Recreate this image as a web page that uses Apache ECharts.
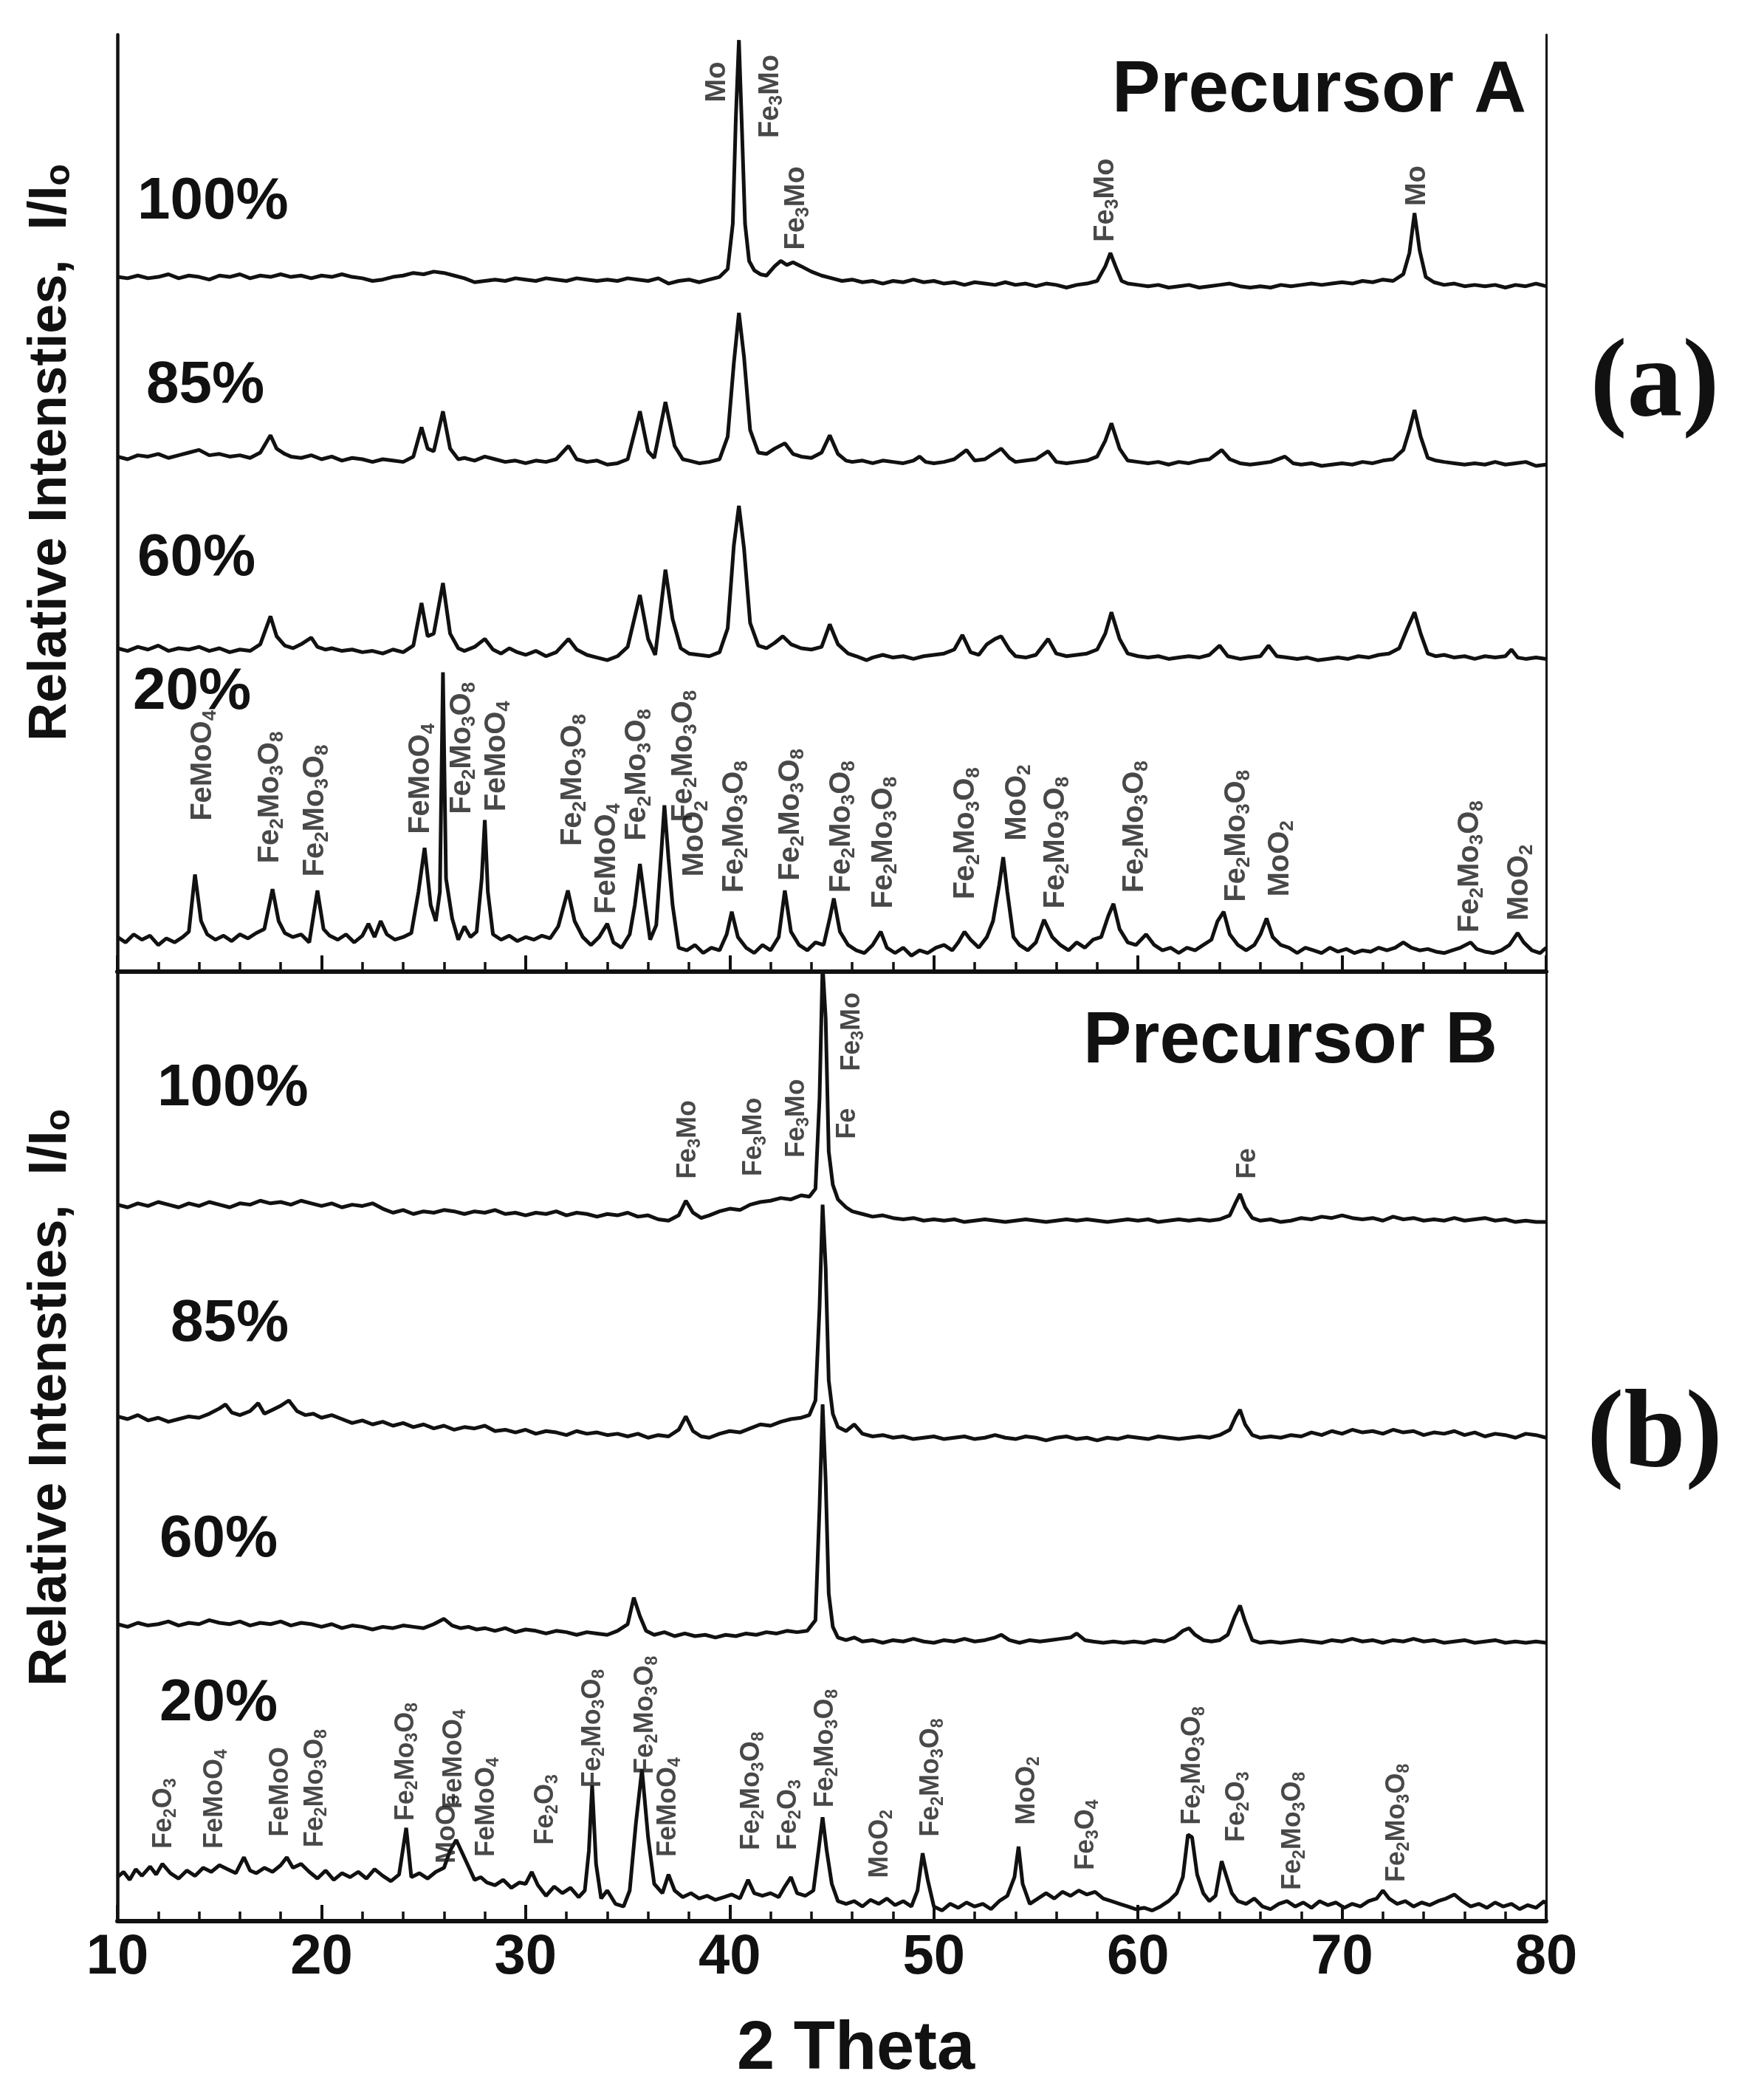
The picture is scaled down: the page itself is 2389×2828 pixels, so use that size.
<!DOCTYPE html>
<html><head><meta charset="utf-8">
<script src="https://cdn.jsdelivr.net/npm/echarts@6/dist/echarts.min.js"></script>
<style>html,body{margin:0;padding:0;background:#fff}#c{width:2389px;height:2828px}</style>
</head><body><div id="c"></div>
<script>
// ---------- data ----------
const xTicks = [10, 20, 30, 40, 50, 60, 70, 80];
const sampleNames = ['100%', '85%', '60%', '20%'];
// stacking offsets of each pattern (arbitrary intensity units)
const offsetsA = [522, 387, 240, 30];
const offsetsB = [538, 371, 221, 23];

// Precursor A patterns: [2theta, intensity relative to own baseline]
const A100 = [[10,0],[10.5,-1],[11,1],[11.5,-1],[12,0],[12.5,2],[13,-1],[13.5,1],[14,0],[14.5,-2],[15,1],[15.5,0],[16,2],[16.5,-1],[17,1],[17.5,0],[18,2],[18.5,0],[19,1],[19.5,-1],[20,1],[20.5,0],[21,2],[21.5,0],[22,-1],[22.5,-3],[23,-2],[23.5,0],[24,1],[24.5,3],[25,2],[25.5,4],[26,3],[26.5,1],[27,-1],[27.5,-4],[28,-3],[28.5,-2],[29,-3],[29.5,-1],[30,-2],[30.5,-3],[31,-1],[31.5,-2],[32,-3],[32.5,-1],[33,-2],[33.5,-3],[34,-2],[34.5,-3],[35,-1],[35.5,-2],[36,-3],[36.5,-1],[37,-5],[37.5,-3],[38,-2],[38.5,-4],[39,-2],[39.5,0],[39.9,6],[40.15,40],[40.3,120],[40.45,178],[40.6,110],[40.75,40],[40.95,12],[41.2,5],[41.5,2],[41.8,1],[42.2,8],[42.5,12],[42.8,9],[43.1,11],[43.5,8],[44,4],[44.5,1],[45,-1],[45.5,-3],[46,-2],[46.5,-4],[47,-3],[47.5,-5],[48,-3],[48.5,-4],[49,-2],[49.5,-4],[50,-3],[50.5,-5],[51,-4],[51.5,-6],[52,-4],[52.5,-5],[53,-6],[53.5,-4],[54,-6],[54.5,-5],[55,-7],[55.5,-5],[56,-6],[56.5,-8],[57,-6],[57.5,-5],[58,-3],[58.4,8],[58.65,18],[58.9,8],[59.2,-3],[59.5,-5],[60,-6],[60.5,-7],[61,-6],[61.5,-8],[62,-7],[62.5,-6],[63,-8],[63.5,-7],[64,-6],[64.5,-5],[65,-7],[65.5,-8],[66,-7],[66.5,-8],[67,-6],[67.5,-7],[68,-6],[68.5,-5],[69,-6],[69.5,-5],[70,-4],[70.5,-5],[71,-3],[71.5,-4],[72,-2],[72.5,-3],[73,2],[73.3,18],[73.55,48],[73.8,20],[74.1,0],[74.5,-4],[75,-6],[75.5,-5],[76,-7],[76.5,-6],[77,-7],[77.5,-6],[78,-8],[78.5,-6],[79,-7],[79.5,-5],[80,-7]];
const A85 = [[10,0],[10.5,-2],[11,1],[11.5,0],[12,2],[12.5,-1],[13,1],[13.5,3],[14,5],[14.5,1],[15,2],[15.5,0],[16,1],[16.5,-1],[17,3],[17.5,16],[17.8,6],[18.2,2],[18.5,0],[19,-1],[19.5,1],[20,-2],[20.5,0],[21,-3],[21.5,-1],[22,-2],[22.5,-4],[23,-2],[23.5,-3],[24,-4],[24.5,0],[24.9,22],[25.2,6],[25.5,4],[25.95,34],[26.3,6],[26.7,-2],[27,-1],[27.5,-3],[28,0],[28.5,-2],[29,-4],[29.5,-3],[30,-5],[30.5,-3],[31,-4],[31.5,-2],[32.1,8],[32.5,-2],[33,-4],[33.5,-3],[34,-6],[34.5,-5],[35,-2],[35.6,34],[36,4],[36.3,-1],[36.85,41],[37.3,8],[37.7,-2],[38,-3],[38.5,-5],[39,-4],[39.5,-2],[39.9,15],[40.2,70],[40.45,108],[40.7,75],[41,20],[41.4,3],[41.8,2],[42.2,6],[42.7,10],[43.1,2],[43.5,0],[44,-1],[44.5,3],[44.9,16],[45.3,2],[45.7,-3],[46,-4],[46.5,-3],[47,-5],[47.5,-3],[48,-4],[48.5,-5],[49,-3],[49.3,0],[49.6,-4],[50,-5],[50.5,-4],[51,-2],[51.6,5],[52,-3],[52.5,-2],[53,3],[53.3,6],[53.7,-1],[54,-4],[54.5,-3],[55,-2],[55.6,4],[56,-4],[56.5,-5],[57,-4],[57.5,-3],[58,0],[58.4,12],[58.7,25],[59.1,6],[59.5,-3],[60,-4],[60.5,-5],[61,-4],[61.5,-6],[62,-4],[62.5,-5],[63,-3],[63.5,-2],[64.1,5],[64.5,-2],[65,-5],[65.5,-6],[66,-5],[66.5,-4],[67.2,0],[67.6,-5],[68,-6],[68.5,-5],[69,-7],[69.5,-6],[70,-5],[70.5,-6],[71,-4],[71.5,-5],[72,-3],[72.5,-2],[73,5],[73.3,20],[73.55,35],[73.85,15],[74.2,-1],[74.6,-3],[75,-4],[75.5,-5],[76,-6],[76.5,-5],[77,-6],[77.5,-4],[78,-6],[78.5,-5],[79,-4],[79.5,-7],[80,-6]];
const A60 = [[10,3],[10.5,1],[11,4],[11.5,2],[12,5],[12.5,1],[13,3],[13.5,2],[14,4],[14.5,1],[15,3],[15.5,0],[16,2],[16.5,1],[17,6],[17.5,27],[17.8,12],[18.2,5],[18.6,3],[19,6],[19.5,11],[19.8,4],[20.2,2],[20.5,3],[21,1],[21.5,2],[22,0],[22.5,1],[23,-1],[23.5,2],[24,0],[24.5,5],[24.9,37],[25.2,12],[25.5,14],[25.95,52],[26.3,14],[26.7,3],[27,1],[27.5,4],[28,10],[28.4,2],[28.8,-1],[29.2,3],[29.6,0],[30,-2],[30.5,1],[31,-3],[31.5,0],[32.1,10],[32.5,2],[33,-2],[33.5,-4],[34,-6],[34.5,-3],[35,4],[35.6,43],[36,10],[36.35,-2],[36.85,62],[37.2,25],[37.6,3],[38,-1],[38.5,-2],[39,-3],[39.5,0],[39.9,18],[40.2,80],[40.45,110],[40.7,78],[41,22],[41.4,5],[41.8,3],[42.2,7],[42.6,12],[43,6],[43.5,3],[44,2],[44.5,4],[44.9,21],[45.3,6],[45.8,-1],[46.2,-3],[46.7,-6],[47,-4],[47.5,-2],[48,-4],[48.5,-3],[49,-5],[49.5,-3],[50,-2],[50.5,-1],[51,2],[51.4,13],[51.8,0],[52.2,-2],[52.6,6],[53,10],[53.3,12],[53.7,2],[54,-3],[54.5,-4],[55,-2],[55.6,10],[56,-1],[56.5,-3],[57,-2],[57.5,-1],[58,2],[58.4,14],[58.7,30],[59.1,10],[59.5,-1],[60,-3],[60.5,-4],[61,-3],[61.5,-5],[62,-4],[62.5,-3],[63,-4],[63.5,-2],[64,5],[64.4,-3],[65,-5],[65.5,-4],[66,-3],[66.4,5],[66.8,-3],[67.3,-4],[67.8,-5],[68.3,-4],[68.8,-6],[69.3,-5],[69.8,-4],[70.3,-5],[70.8,-3],[71.3,-4],[71.8,-2],[72.3,-1],[72.8,3],[73.2,18],[73.55,30],[73.85,14],[74.2,-1],[74.6,-3],[75,-2],[75.5,-4],[76,-3],[76.5,-5],[77,-3],[77.5,-4],[78,-3],[78.3,2],[78.6,-4],[79,-5],[79.5,-4],[80,-5]];
const A20 = [[10,-4],[10.4,-8],[10.8,-2],[11.2,-6],[11.6,-3],[12,-10],[12.4,-5],[12.8,-8],[13.2,-4],[13.5,0],[13.8,43],[14.1,8],[14.4,-2],[14.8,-6],[15.2,-3],[15.6,-7],[16,-2],[16.4,-5],[16.8,-1],[17.2,2],[17.6,32],[17.9,8],[18.2,-1],[18.6,-4],[19,-2],[19.4,-8],[19.8,31],[20.1,2],[20.4,-3],[20.8,-6],[21.2,-2],[21.6,-8],[22,-3],[22.3,6],[22.6,-4],[22.9,8],[23.2,-2],[23.6,-6],[24,-4],[24.4,-1],[24.75,30],[25.05,63],[25.35,20],[25.6,8],[25.8,30],[25.95,195],[26.1,40],[26.4,10],[26.7,-6],[27,4],[27.3,-4],[27.6,0],[27.85,40],[28.0,84],[28.15,30],[28.4,-2],[28.8,-6],[29.2,-3],[29.6,-7],[30,-4],[30.4,-6],[30.8,-3],[31.2,-5],[31.6,4],[32.07,31],[32.4,8],[32.8,-4],[33.2,-10],[33.6,-4],[34.0,6],[34.3,-8],[34.7,-12],[35.1,-2],[35.35,20],[35.6,51],[35.85,22],[36.1,-6],[36.4,5],[36.65,60],[36.8,95],[37.0,55],[37.2,20],[37.5,-12],[37.9,-14],[38.3,-10],[38.7,-16],[39.1,-12],[39.5,-14],[39.85,-2],[40.1,15],[40.4,-4],[40.8,-12],[41.2,-16],[41.6,-10],[42,-14],[42.4,-4],[42.7,31],[43,0],[43.4,-10],[43.8,-14],[44.2,-8],[44.6,-10],[44.9,10],[45.1,25],[45.4,0],[45.8,-10],[46.2,-14],[46.6,-16],[47,-10],[47.4,0],[47.7,-12],[48.1,-16],[48.5,-12],[48.9,-18],[49.3,-14],[49.7,-16],[50.1,-12],[50.5,-10],[50.9,-14],[51.2,-8],[51.5,0],[51.8,-6],[52.2,-12],[52.6,-4],[52.9,8],[53.2,35],[53.4,56],[53.6,30],[53.9,-4],[54.2,-10],[54.6,-14],[55,-8],[55.4,9],[55.8,-4],[56.2,-10],[56.6,-14],[57,-8],[57.4,-12],[57.8,-6],[58.2,-4],[58.55,12],[58.8,21],[59.1,2],[59.5,-8],[59.9,-10],[60.4,-2],[60.8,-10],[61.2,-14],[61.6,-12],[62,-16],[62.4,-12],[62.8,-14],[63.2,-10],[63.6,-6],[63.9,8],[64.2,15],[64.5,-2],[64.9,-10],[65.3,-14],[65.7,-10],[66.0,-2],[66.3,10],[66.6,-4],[67,-10],[67.4,-12],[67.8,-16],[68.2,-12],[68.6,-14],[69,-16],[69.4,-12],[69.8,-15],[70.2,-13],[70.6,-16],[71,-14],[71.4,-15],[71.8,-12],[72.2,-14],[72.6,-12],[73,-8],[73.4,-12],[73.8,-14],[74.2,-13],[74.6,-15],[75,-16],[75.4,-14],[75.8,-12],[76.3,-8],[76.6,-13],[77,-15],[77.4,-16],[77.8,-14],[78.2,-10],[78.6,-1],[78.9,-8],[79.3,-14],[79.7,-16],[80,-12]];

// Precursor B patterns
const B100 = [[10,0],[10.5,-2],[11,1],[11.5,-1],[12,2],[12.5,0],[13,-2],[13.5,1],[14,-1],[14.5,2],[15,0],[15.5,-2],[16,1],[16.5,0],[17,3],[17.5,1],[18,2],[18.5,0],[19,3],[19.5,1],[20,-1],[20.5,1],[21,-2],[21.5,0],[22,-1],[22.5,1],[23,-3],[23.5,-6],[24,-4],[24.5,-7],[25,-5],[25.5,-6],[26,-4],[26.5,-5],[27,-7],[27.5,-5],[28,-6],[28.5,-4],[29,-7],[29.5,-6],[30,-8],[30.5,-6],[31,-7],[31.5,-5],[32,-8],[32.5,-6],[33,-7],[33.5,-9],[34,-7],[34.5,-8],[35,-6],[35.5,-9],[36,-8],[36.5,-11],[37,-12],[37.5,-8],[37.85,3],[38.2,-6],[38.6,-10],[39,-8],[39.5,-5],[40,-3],[40.5,-4],[41,0],[41.5,2],[42,3],[42.5,5],[43,4],[43.5,7],[43.9,6],[44.2,12],[44.4,80],[44.55,180],[44.7,140],[44.85,40],[45.05,15],[45.3,4],[45.7,-2],[46,-5],[46.5,-7],[47,-9],[47.5,-8],[48,-10],[48.5,-11],[49,-10],[49.5,-12],[50,-11],[50.5,-12],[51,-11],[51.5,-13],[52,-12],[52.5,-11],[53,-12],[53.5,-13],[54,-12],[54.5,-11],[55,-12],[55.5,-13],[56,-12],[56.5,-11],[57,-12],[57.5,-11],[58,-12],[58.5,-13],[59,-12],[59.5,-11],[60,-12],[60.5,-11],[61,-13],[61.5,-12],[62,-11],[62.5,-12],[63,-11],[63.5,-12],[64,-11],[64.5,-8],[64.8,2],[65.0,8],[65.25,-2],[65.6,-10],[66,-12],[66.5,-11],[67,-13],[67.5,-12],[68,-10],[68.5,-11],[69,-9],[69.5,-10],[70,-8],[70.5,-10],[71,-11],[71.5,-10],[72,-12],[72.5,-9],[73,-11],[73.5,-10],[74,-12],[74.5,-11],[75,-12],[75.5,-10],[76,-12],[76.5,-11],[77,-10],[77.5,-12],[78,-11],[78.5,-13],[79,-12],[79.5,-13],[80,-13]];
const B85 = [[10,8],[10.5,6],[11,9],[11.5,5],[12,7],[12.5,4],[13,6],[13.5,8],[14,7],[14.5,10],[15,14],[15.3,17],[15.6,11],[16,9],[16.5,12],[16.9,18],[17.2,10],[17.6,13],[18,16],[18.4,20],[18.8,12],[19.2,9],[19.6,10],[20,7],[20.5,9],[21,6],[21.5,3],[22,5],[22.5,2],[23,4],[23.5,1],[24,3],[24.5,0],[25,2],[25.5,-1],[26,1],[26.5,-2],[27,0],[27.5,-1],[28,1],[28.5,-3],[29,-2],[29.5,-4],[30,-2],[30.5,-5],[31,-3],[31.5,-4],[32,-6],[32.5,-3],[33,-5],[33.5,-4],[34,-6],[34.5,-5],[35,-7],[35.5,-5],[36,-8],[36.5,-6],[37,-7],[37.5,-2],[37.85,8],[38.2,-3],[38.6,-7],[39,-8],[39.5,-5],[40,-3],[40.5,-4],[41,-1],[41.5,2],[42,1],[42.5,4],[43,6],[43.5,7],[43.9,9],[44.2,20],[44.4,90],[44.55,167],[44.7,120],[44.85,35],[45.05,10],[45.3,0],[45.7,-3],[46.1,2],[46.5,-5],[47,-7],[47.5,-6],[48,-8],[48.5,-7],[49,-9],[49.5,-8],[50,-7],[50.5,-9],[51,-8],[51.5,-7],[52,-9],[52.5,-8],[53,-6],[53.5,-8],[54,-9],[54.5,-7],[55,-8],[55.5,-10],[56,-8],[56.5,-7],[57,-9],[57.5,-8],[58,-10],[58.5,-8],[59,-9],[59.5,-7],[60,-8],[60.5,-9],[61,-7],[61.5,-8],[62,-9],[62.5,-8],[63,-7],[63.5,-8],[64,-6],[64.5,-2],[64.8,8],[65.0,13],[65.25,2],[65.6,-6],[66,-8],[66.5,-7],[67,-8],[67.5,-6],[68,-7],[68.5,-4],[69,-6],[69.5,-3],[70,-5],[70.5,-2],[71,-4],[71.5,-3],[72,-5],[72.5,-2],[73,-4],[73.5,-3],[74,-6],[74.5,-4],[75,-5],[75.5,-3],[76,-6],[76.5,-4],[77,-7],[77.5,-5],[78,-6],[78.5,-8],[79,-5],[79.5,-6],[80,-8]];
const B60 = [[10,2],[10.5,0],[11,3],[11.5,1],[12,2],[12.5,4],[13,1],[13.5,3],[14,2],[14.5,5],[15,3],[15.5,2],[16,4],[16.5,1],[17,3],[17.5,2],[18,4],[18.5,1],[19,3],[19.5,2],[20,0],[20.5,2],[21,-1],[21.5,1],[22,0],[22.5,-2],[23,0],[23.5,-1],[24,1],[24.5,0],[25,-1],[25.5,2],[26,6],[26.4,1],[26.8,-1],[27.2,0],[27.6,-2],[28,-1],[28.5,-3],[29,-1],[29.5,-4],[30,-2],[30.5,-3],[31,-5],[31.5,-3],[32,-4],[32.5,-6],[33,-4],[33.5,-5],[34,-6],[34.5,-3],[35,2],[35.3,22],[35.6,8],[35.9,-3],[36.3,-6],[36.8,-4],[37.3,-7],[37.8,-5],[38.3,-7],[38.8,-6],[39.3,-8],[39.8,-6],[40.3,-7],[40.8,-5],[41.3,-6],[41.8,-4],[42.3,-5],[42.8,-3],[43.3,-4],[43.8,-3],[44.2,5],[44.4,90],[44.55,167],[44.7,110],[44.85,25],[45.05,0],[45.3,-8],[45.7,-10],[46.1,-8],[46.5,-11],[47,-10],[47.5,-12],[48,-10],[48.5,-11],[49,-9],[49.5,-11],[50,-12],[50.5,-10],[51,-11],[51.5,-9],[52,-11],[52.5,-10],[53,-8],[53.3,-6],[53.7,-10],[54.2,-12],[54.7,-10],[55.2,-11],[55.7,-10],[56.2,-9],[56.7,-8],[57,-5],[57.4,-10],[57.8,-11],[58.3,-12],[58.8,-11],[59.3,-12],[59.8,-11],[60.3,-12],[60.8,-10],[61.3,-11],[61.8,-8],[62.2,-3],[62.5,-1],[62.8,-6],[63.2,-10],[63.6,-11],[64,-10],[64.4,-6],[64.75,8],[65.0,16],[65.25,4],[65.6,-10],[66,-12],[66.5,-11],[67,-12],[67.5,-11],[68,-10],[68.5,-11],[69,-12],[69.5,-10],[70,-11],[70.5,-9],[71,-11],[71.5,-10],[72,-12],[72.5,-10],[73,-11],[73.5,-9],[74,-11],[74.5,-10],[75,-12],[75.5,-11],[76,-10],[76.5,-12],[77,-11],[77.5,-10],[78,-12],[78.5,-11],[79,-12],[79.5,-11],[80,-12]];
const B20 = [[10,10],[10.3,14],[10.6,8],[10.9,16],[11.2,11],[11.6,18],[11.9,12],[12.2,20],[12.6,13],[13,9],[13.4,15],[13.8,11],[14.2,17],[14.6,14],[15,19],[15.4,16],[15.8,13],[16.2,25],[16.5,15],[16.8,13],[17.2,17],[17.6,14],[18,19],[18.3,25],[18.6,17],[19,20],[19.4,14],[19.8,9],[20.2,15],[20.6,8],[21,13],[21.4,10],[21.8,14],[22.2,9],[22.6,16],[23,11],[23.4,7],[23.8,12],[24.15,47],[24.4,10],[24.8,13],[25.2,9],[25.6,14],[26,17],[26.3,30],[26.6,38],[26.9,28],[27.2,18],[27.5,8],[27.8,10],[28.1,6],[28.5,4],[28.9,8],[29.3,2],[29.7,6],[30.0,5],[30.3,14],[30.6,4],[31,-4],[31.4,3],[31.8,-2],[32.2,2],[32.6,-5],[32.9,0],[33.1,30],[33.26,79],[33.45,20],[33.7,-6],[34,0],[34.4,-10],[34.8,-12],[35.1,0],[35.4,50],[35.7,91],[36.0,40],[36.3,5],[36.7,-2],[37.0,12],[37.3,0],[37.7,-5],[38.1,-2],[38.5,-6],[38.9,-4],[39.3,-7],[39.7,-5],[40.1,-3],[40.5,-6],[40.9,8],[41.2,-2],[41.6,-4],[42,-2],[42.4,-5],[42.7,3],[43.0,10],[43.3,-2],[43.7,-4],[44.1,0],[44.35,30],[44.55,55],[44.75,30],[45.0,5],[45.3,-8],[45.7,-10],[46.1,-8],[46.5,-12],[46.9,-7],[47.3,-10],[47.7,-6],[48.1,-11],[48.5,-8],[48.9,-12],[49.2,0],[49.45,28],[49.7,8],[50,-12],[50.4,-15],[50.8,-10],[51.2,-13],[51.6,-9],[52,-12],[52.4,-10],[52.8,-14],[53.2,-8],[53.6,-4],[53.95,10],[54.15,33],[54.35,5],[54.7,-10],[55.1,-6],[55.5,-2],[55.9,-6],[56.3,-1],[56.7,-4],[57.1,0],[57.5,-3],[57.9,-1],[58.3,-6],[58.7,-8],[59.1,-10],[59.5,-12],[59.9,-14],[60.3,-13],[60.7,-15],[61.1,-12],[61.5,-8],[61.9,-2],[62.2,10],[62.45,42],[62.65,40],[62.9,12],[63.2,-2],[63.5,-8],[63.8,-4],[64.1,22],[64.35,10],[64.6,-2],[64.9,-8],[65.3,-10],[65.7,-6],[66.1,-12],[66.5,-14],[66.9,-10],[67.3,-8],[67.7,-12],[68.1,-9],[68.5,-13],[68.9,-8],[69.3,-11],[69.7,-9],[70.1,-13],[70.5,-10],[70.9,-12],[71.3,-8],[71.7,-6],[72.0,0],[72.3,-6],[72.7,-10],[73.1,-8],[73.5,-12],[73.9,-9],[74.3,-11],[74.7,-8],[75.1,-6],[75.5,-3],[75.9,-8],[76.3,-12],[76.7,-10],[77.1,-13],[77.5,-9],[77.9,-12],[78.3,-10],[78.7,-14],[79.1,-11],[79.5,-13],[79.9,-8],[80,-10]];

// phase labels: [text, 2theta, intensity where the label starts]
const labelsA = [
  ['Mo',39.4,653],['Fe{s|3}Mo',42.0,626],['Fe{s|3}Mo',43.3,542],['Fe{s|3}Mo',58.45,548],['Mo',73.7,575]
];
const labelsA20 = [
  ['FeMoO{s|4}',14.2,113],['Fe{s|2}Mo{s|3}O{s|8}',17.5,81],['Fe{s|2}Mo{s|3}O{s|8}',19.7,71],
  ['FeMoO{s|4}',24.9,103],['Fe{s|2}Mo{s|3}O{s|8}',26.9,118],['FeMoO{s|4}',28.6,120],
  ['Fe{s|2}Mo{s|3}O{s|8}',32.35,94],['FeMoO{s|4}',34.0,43],['Fe{s|2}Mo{s|3}O{s|8}',35.5,98],
  ['Fe{s|2}Mo{s|3}O{s|8}',37.75,112],['MoO{s|2}',38.3,71],['Fe{s|2}Mo{s|3}O{s|8}',40.25,59],
  ['Fe{s|2}Mo{s|3}O{s|8}',43.0,68],['Fe{s|2}Mo{s|3}O{s|8}',45.5,59],['Fe{s|2}Mo{s|3}O{s|8}',47.55,47],
  ['Fe{s|2}Mo{s|3}O{s|8}',51.6,54],['MoO{s|2}',54.1,98],['Fe{s|2}Mo{s|3}O{s|8}',56.0,47],
  ['Fe{s|2}Mo{s|3}O{s|8}',59.85,59],['Fe{s|2}Mo{s|3}O{s|8}',64.85,52],['MoO{s|2}',67.0,56],
  ['Fe{s|2}Mo{s|3}O{s|8}',76.3,29],['MoO{s|2}',78.7,38]
];
const labelsB = [
  ['Fe{s|3}Mo',38.0,557],['Fe{s|3}Mo',41.2,559],['Fe{s|3}Mo',43.3,573],['Fe',45.8,587],['Fe{s|3}Mo',46.0,638],['Fe',65.4,557],
  ['Fe{s|2}O{s|3}',12.3,54],['FeMoO{s|4}',14.8,54],['FeMoO',18.0,63],['Fe{s|2}Mo{s|3}O{s|8}',19.7,55],
  ['Fe{s|2}Mo{s|3}O{s|8}',24.15,75],['MoO{s|3}',26.2,43],['FeMoO{s|4}',26.5,84],['FeMoO{s|4}',28.1,48],
  ['Fe{s|2}O{s|3}',31.0,57],['Fe{s|2}Mo{s|3}O{s|8}',33.3,100],['Fe{s|2}Mo{s|3}O{s|8}',35.9,110],
  ['FeMoO{s|4}',37.0,48],['Fe{s|2}Mo{s|3}O{s|8}',41.1,53],['Fe{s|2}O{s|3}',42.9,53],
  ['Fe{s|2}Mo{s|3}O{s|8}',44.7,85],['MoO{s|2}',47.4,32],['Fe{s|2}Mo{s|3}O{s|8}',49.9,63],
  ['MoO{s|2}',54.6,72],['Fe{s|3}O{s|4}',57.5,38],['Fe{s|2}Mo{s|3}O{s|8}',62.7,72],
  ['Fe{s|2}O{s|3}',64.85,59],['Fe{s|2}Mo{s|3}O{s|8}',67.6,23],['Fe{s|2}Mo{s|3}O{s|8}',72.7,29]
];

// ---------- chart ----------
const FONT = '"Liberation Sans", Arial, sans-serif';
const INK = '#111';
const chart = echarts.init(document.getElementById('c'), null, {renderer: 'canvas'});
const stack = (rel, off) => rel.map(p => [p[0], p[1] + off]);
const patternsA = [A100, A85, A60, A20];
const patternsB = [B100, B85, B60, B20];

const lineSeries = [];
patternsA.forEach((d, i) => lineSeries.push({
  type: 'line', name: 'A ' + sampleNames[i], xAxisIndex: 0, yAxisIndex: 0,
  data: stack(d, offsetsA[i]), showSymbol: false, symbol: 'none', clip: true,
  lineStyle: {color: INK, width: 5}, z: 3
}));
patternsB.forEach((d, i) => lineSeries.push({
  type: 'line', name: 'B ' + sampleNames[i], xAxisIndex: 2, yAxisIndex: 2,
  data: stack(d, offsetsB[i]), showSymbol: false, symbol: 'none', clip: true,
  lineStyle: {color: INK, width: 5}, z: 3
}));

function labelSeries(list, xi, yi, fs, sfs) {
  return {
    type: 'scatter', xAxisIndex: xi, yAxisIndex: yi, symbolSize: 1,
    itemStyle: {color: 'rgba(0,0,0,0)'}, silent: true, z: 4,
    data: list.map(l => ({value: [l[1], l[2]], txt: l[0]})),
    label: {
      show: true, position: [0, 0], rotate: 90, align: 'left', verticalAlign: 'middle',
      formatter: p => p.data.txt, color: '#1a1a1a', fontFamily: FONT, fontWeight: 'bold',
      fontSize: fs, lineHeight: fs + 6,
      rich: {s: {fontSize: sfs, lineHeight: sfs - 4, verticalAlign: 'bottom', fontFamily: FONT, fontWeight: 'bold', color: '#1a1a1a'}}
    },
    labelLayout: {hideOverlap: false}
  };
}

const noAxisParts = {axisTick: {show: false}, axisLabel: {show: false}, splitLine: {show: false}};
const tickX = (showLabels) => ({
  type: 'value', min: xTicks[0], max: xTicks[xTicks.length - 1], interval: xTicks[1] - xTicks[0],
  axisLine: {show: true, onZero: false, lineStyle: {color: INK, width: 6}},
  axisTick: {show: true, inside: true, length: 22, lineStyle: {color: INK, width: 4}},
  minorTick: {show: true, splitNumber: 5, length: 13, lineStyle: {color: INK, width: 3.5}},
  axisLabel: {show: showLabels, color: INK, fontFamily: FONT, fontWeight: 'bold', fontSize: 76, margin: 12},
  splitLine: {show: false}, minorSplitLine: {show: false}
});

const txt = (text, x, y, size, opts = {}) => Object.assign({
  type: 'text', x, y, silent: true,
  style: Object.assign({text, fill: INK, fontFamily: FONT, fontWeight: 'bold', fontSize: size,
    align: 'left', verticalAlign: 'middle'}, opts.style || {})
}, opts.el || {});

const yName = 'Relative Intensties,  I/I{s|o}';
const yNameStyle = {align: 'center', fontSize: 72,
  rich: {s: {fontSize: 48, lineHeight: 48, verticalAlign: 'bottom', fontFamily: FONT, fontWeight: 'bold', fill: INK}}};

chart.setOption({
  animation: false,
  backgroundColor: '#fff',
  grid: [
    {left: 159, top: 47, width: 1935, height: 1269},
    {left: 159, top: 1316, width: 1935, height: 1286}
  ],
  xAxis: [
    Object.assign(tickX(false), {gridIndex: 0, position: 'bottom'}),
    Object.assign({type: 'value', gridIndex: 0, position: 'top', min: 10, max: 80,
      axisLine: {show: true, lineStyle: {color: INK, width: 5}}}, noAxisParts),
    Object.assign(tickX(true), {gridIndex: 1, position: 'bottom'})
  ],
  yAxis: [
    Object.assign({type: 'value', gridIndex: 0, min: 0, max: 704, position: 'left',
      axisLine: {show: true, onZero: false, lineStyle: {color: INK, width: 4.5}}}, noAxisParts),
    Object.assign({type: 'value', gridIndex: 0, min: 0, max: 704, position: 'right',
      axisLine: {show: true, onZero: false, lineStyle: {color: INK, width: 3}}}, noAxisParts),
    Object.assign({type: 'value', gridIndex: 1, min: 0, max: 713, position: 'left',
      axisLine: {show: true, onZero: false, lineStyle: {color: INK, width: 4.5}}}, noAxisParts),
    Object.assign({type: 'value', gridIndex: 1, min: 0, max: 713, position: 'right',
      axisLine: {show: true, onZero: false, lineStyle: {color: INK, width: 3}}}, noAxisParts)
  ],
  series: lineSeries.concat([
    labelSeries(labelsA, 0, 0, 38, 25),
    labelSeries(labelsA20, 0, 0, 40, 26),
    labelSeries(labelsB, 2, 2, 36, 23)
  ]),
  graphic: [
    txt(sampleNames[0], 186, 274, 80), txt(sampleNames[1], 198, 523, 80),
    txt(sampleNames[2], 186, 757, 80), txt(sampleNames[3], 180, 938, 80),
    txt(sampleNames[0], 213, 1475, 80), txt(sampleNames[1], 231, 1794, 80),
    txt(sampleNames[2], 216, 2086, 80), txt(sampleNames[3], 216, 2308, 80),
    txt('Precursor A', 2067, 124, 98, {style: {align: 'right'}}),
    txt('Precursor B', 2028, 1412, 98, {style: {align: 'right'}}),
    txt('(a)', 2241, 523, 150, {style: {align: 'center', fontFamily: '"Liberation Serif", "DejaVu Serif", serif'}}),
    txt('(b)', 2241, 1947, 150, {style: {align: 'center', fontFamily: '"Liberation Serif", "DejaVu Serif", serif'}}),
    txt('2 Theta', 1159, 2777, 92, {style: {align: 'center'}}),
    txt(yName, 69, 613, 72, {style: yNameStyle, el: {rotation: Math.PI / 2}}),
    txt(yName, 69, 1893, 72, {style: yNameStyle, el: {rotation: Math.PI / 2}})
  ]
});
</script></body></html>
